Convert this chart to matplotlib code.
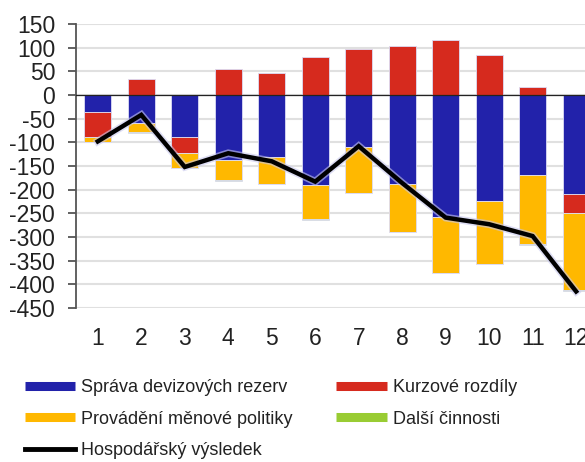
import numpy as np
import matplotlib
matplotlib.use("Agg")
import matplotlib.pyplot as plt
import matplotlib.patheffects as pe
from matplotlib.lines import Line2D

plt.rcParams["font.family"] = ["Liberation Sans", "DejaVu Sans"]
plt.rcParams["axes.unicode_minus"] = False

# =========================
# DATA
# =========================
months = ["1", "2", "3", "4", "5", "6", "7", "8", "9", "10", "11", "12"]
sprava = [-35, -59, -88, -137, -132, -190, -110, -187, -257, -224, -168, -209]
kurzove = [-54, 33, -35, 56, 47, 80, 97, 104, 116, 84, 16, -41]
provadeni = [-10, -20, -31, -43, -56, -72, -96, -102, -118, -133, -147, -162]
dalsi = [-1, -1, -1, -1, -1, -1, -1, -1, -1, -1, -1, -1]
vysledek = [-98, -42, -152, -123, -140, -183, -108, -186, -259, -273, -298, -415]

series = [
    ("Správa devizových rezerv", sprava, "#2222AA"),
    ("Kurzové rozdíly", kurzove, "#D62A1E"),
    ("Provádění měnové politiky", provadeni, "#FFB800"),
    ("Další činnosti", dalsi, "#99CC33"),
]
line_label = "Hospodářský výsledek"

# =========================
# PLOT
# =========================
fig = plt.figure(figsize=(5.85, 4.62), dpi=100)
ax = fig.add_axes([0.130, 0.3333, 0.892, 0.6147])

x = np.arange(1, len(months) + 1)
pos_base = np.zeros(len(months))
neg_base = np.zeros(len(months))
for name, vals, color in series:
    vals = np.array(vals, dtype=float)
    bottoms = np.where(vals >= 0, pos_base, neg_base)
    ax.bar(x, vals, bottom=bottoms, width=0.62, color=color,
           edgecolor="#dcdcf5", linewidth=0.6, zorder=2)
    pos_base = pos_base + np.where(vals >= 0, vals, 0)
    neg_base = neg_base + np.where(vals < 0, vals, 0)

ax.plot(x, vysledek, color="black", linewidth=3.2, zorder=4,
        solid_joinstyle="miter",
        path_effects=[pe.Stroke(linewidth=5.5, foreground="#c8c8ee", alpha=0.6),
                      pe.Normal()])

ax.axhline(0, color="#222222", linewidth=0.9, zorder=3)

ax.set_xlim(0.5, 12.5)
ax.set_ylim(-450, 150)
ax.set_yticks(np.arange(-450, 151, 50))
ax.set_xticks(x)
ax.set_xticklabels(months)
ax.yaxis.grid(True, color="#e0e0e0", linewidth=1.5, zorder=0)
ax.set_axisbelow(True)

for side in ["top", "right", "bottom"]:
    ax.spines[side].set_visible(False)
ax.spines["left"].set_color("#555555")
ax.spines["left"].set_linewidth(1.3)

ax.tick_params(axis="y", length=6, width=1.3, color="#555555", pad=9,
               labelsize=16.5, labelcolor="#222222", direction="out")
ax.tick_params(axis="x", length=0, pad=14, labelsize=16.5, labelcolor="#222222")

# =========================
# LEGEND
# =========================
h_blue = Line2D([], [], color=series[0][2], linewidth=6.5, solid_capstyle="butt")
h_red = Line2D([], [], color=series[1][2], linewidth=6.5, solid_capstyle="butt")
h_yel = Line2D([], [], color=series[2][2], linewidth=6.5, solid_capstyle="butt")
h_grn = Line2D([], [], color=series[3][2], linewidth=6.5, solid_capstyle="butt")
h_line = Line2D([], [], color="black", linewidth=3.5)

fig.legend([h_blue, h_yel, h_line, h_red, h_grn],
           [series[0][0], series[2][0], line_label, series[1][0], series[3][0]],
           ncol=2, loc="upper left", bbox_to_anchor=(0.042, 0.18),
           frameon=False, fontsize=13, handlelength=2.8,
           handletextpad=0.35, labelspacing=0.82, columnspacing=2.4,
           borderpad=0, borderaxespad=0, labelcolor="#222222")

fig.savefig("out.png", dpi=100)
